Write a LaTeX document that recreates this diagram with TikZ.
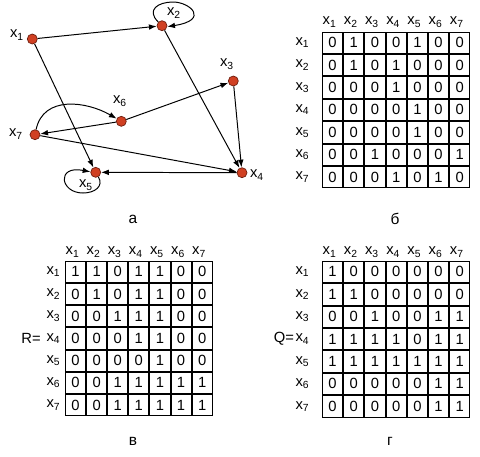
\documentclass[tikz,border=0pt]{standalone}
\usepackage{fontspec}
\setmainfont{Liberation Sans}
\usetikzlibrary{arrows.meta}
\definecolor{vertex}{RGB}{208,64,34}
\definecolor{rim}{RGB}{110,30,15}
\newcommand{\xs}[1]{x\textsubscript{#1}}

\begin{document}
\begin{tikzpicture}[
    x=0.025cm, y=0.025cm,
    every node/.style={font=\fontsize{10.5}{12}\selectfont, inner sep=0pt},
    vert/.style={circle, fill=vertex, draw=rim, line width=0.5pt, minimum size=0.25cm},
    conn/.style={line width=0.7pt, -{Latex[length=5.5pt, width=4pt]}},
    cell/.style={draw, line width=0.7pt},
    caption/.style={font=\fontsize{11}{13}\selectfont},
]
% Canvas: x in [0, 480], y in [-456, 0] (pixels of the page)
\useasboundingbox (0,0) rectangle (480,-456);

% --- Graph (а): vertices ---
\node[vert] (x1) at (32.3, -39.0) {};
\node[vert] (x2) at (162.0, -25.7) {};
\node[vert] (x3) at (233.3, -81.0) {};
\node[vert] (x4) at (242.0, -172.7) {};
\node[vert] (x5) at (95.7, -172.3) {};
\node[vert] (x6) at (121.3, -121.3) {};
\node[vert] (x7) at (35.0, -134.7) {};

% vertex labels
\node (l1) at (17, -35)   {\xs{1}};
\node (l2) at (174, -13)  {\xs{2}};
\node (l3) at (227, -64)  {\xs{3}};
\node (l4) at (257, -175) {\xs{4}};
\node (l5) at (86, -185)  {\xs{5}};
\node (l6) at (120, -101) {\xs{6}};
\node (l7) at (16, -134)  {\xs{7}};

% --- Graph (а): arcs ---
\draw[conn] (x1) -- (x2);
\draw[conn] (x1) -- (x5);
\draw[conn] (x2) -- (x4);
\draw[conn] (x3) -- (x4);
\draw[conn] (x6) -- (x3);
\draw[conn] (x6) -- (x7);
\draw[conn] (x7) to[out=78, in=150, looseness=1.1] (x6);
\draw[conn] (x7) -- (x4);
\draw[conn] (x4) -- (x5);

% loops on x2 and x5
\draw[conn] (x2.135) .. controls (146,-10) and (158,-2) .. (173,-2)
    .. controls (190,-2) and (210,-20) .. (x2.-10);
\draw[conn] (x5.-60) .. controls (104,-186) and (95,-193) .. (83,-193)
    .. controls (60,-193) and (56,-165) .. (x5.175);

% --- Adjacency matrix (б) ---
\foreach \j in {1,...,7}
    \node (b-c\j) at ({322+(\j-0.5)*21.2-3}, -22) {\xs{\j}};
\foreach \row [count=\i] in {{0,1,0,0,1,0,0}, {0,1,0,1,0,0,0}, {0,0,0,1,0,0,0},
        {0,0,0,0,1,0,0}, {0,0,0,0,1,0,0}, {0,0,1,0,0,0,1}, {0,0,0,1,0,1,0}} {
    \node (b-r\i) at (302.5, {-31.5-(\i-0.5)*22.4}) {\xs{\i}};
    \foreach \v [count=\j] in \row
        \node[cell, minimum width=0.505cm, minimum height=0.535cm] (b-\i-\j)
            at ({322+(\j-0.5)*21.2}, {-31.5-(\i-0.5)*22.4}) {\v};
}

% --- Reachability matrix R (в) ---
\node (rlab) at (31, -338.4) {R=};
\foreach \j in {1,...,7}
    \node (r-c\j) at ({65+(\j-0.5)*21.1-3}, -252) {\xs{\j}};
\foreach \row [count=\i] in {{1,1,0,1,1,0,0}, {0,1,0,1,1,0,0}, {0,0,1,1,1,0,0},
        {0,0,0,1,1,0,0}, {0,0,0,0,1,0,0}, {0,0,1,1,1,1,1}, {0,0,1,1,1,1,1}} {
    \node (r-r\i) at (53.5, {-260.7-(\i-0.5)*22.2}) {\xs{\i}};
    \foreach \v [count=\j] in \row
        \node[cell, minimum width=0.5025cm, minimum height=0.53cm] (r-\i-\j)
            at ({65+(\j-0.5)*21.1}, {-260.7-(\i-0.5)*22.2}) {\v};
}

% --- Counter-reachability matrix Q (г) ---
\node (qlab) at (284, -339) {Q=};
\foreach \j in {1,...,7}
    \node (q-c\j) at ({322+(\j-0.5)*21.2-3}, -252) {\xs{\j}};
\foreach \row [count=\i] in {{1,0,0,0,0,0,0}, {1,1,0,0,0,0,0}, {0,0,1,0,0,1,1},
        {1,1,1,1,0,1,1}, {1,1,1,1,1,1,1}, {0,0,0,0,0,1,1}, {0,0,0,0,0,1,1}} {
    \node (q-r\i) at (302.5, {-260.7-(\i-0.5)*22.4}) {\xs{\i}};
    \foreach \v [count=\j] in \row
        \node[cell, minimum width=0.505cm, minimum height=0.535cm] (q-\i-\j)
            at ({322+(\j-0.5)*21.2}, {-260.7-(\i-0.5)*22.4}) {\v};
}

% --- Captions ---
\node[caption] (ca) at (133, -219) {а};
\node[caption] (cb) at (395, -219) {б};
\node[caption] (cv) at (133, -441) {в};
\node[caption] (cg) at (390, -441) {г};

\end{tikzpicture}
\end{document}
